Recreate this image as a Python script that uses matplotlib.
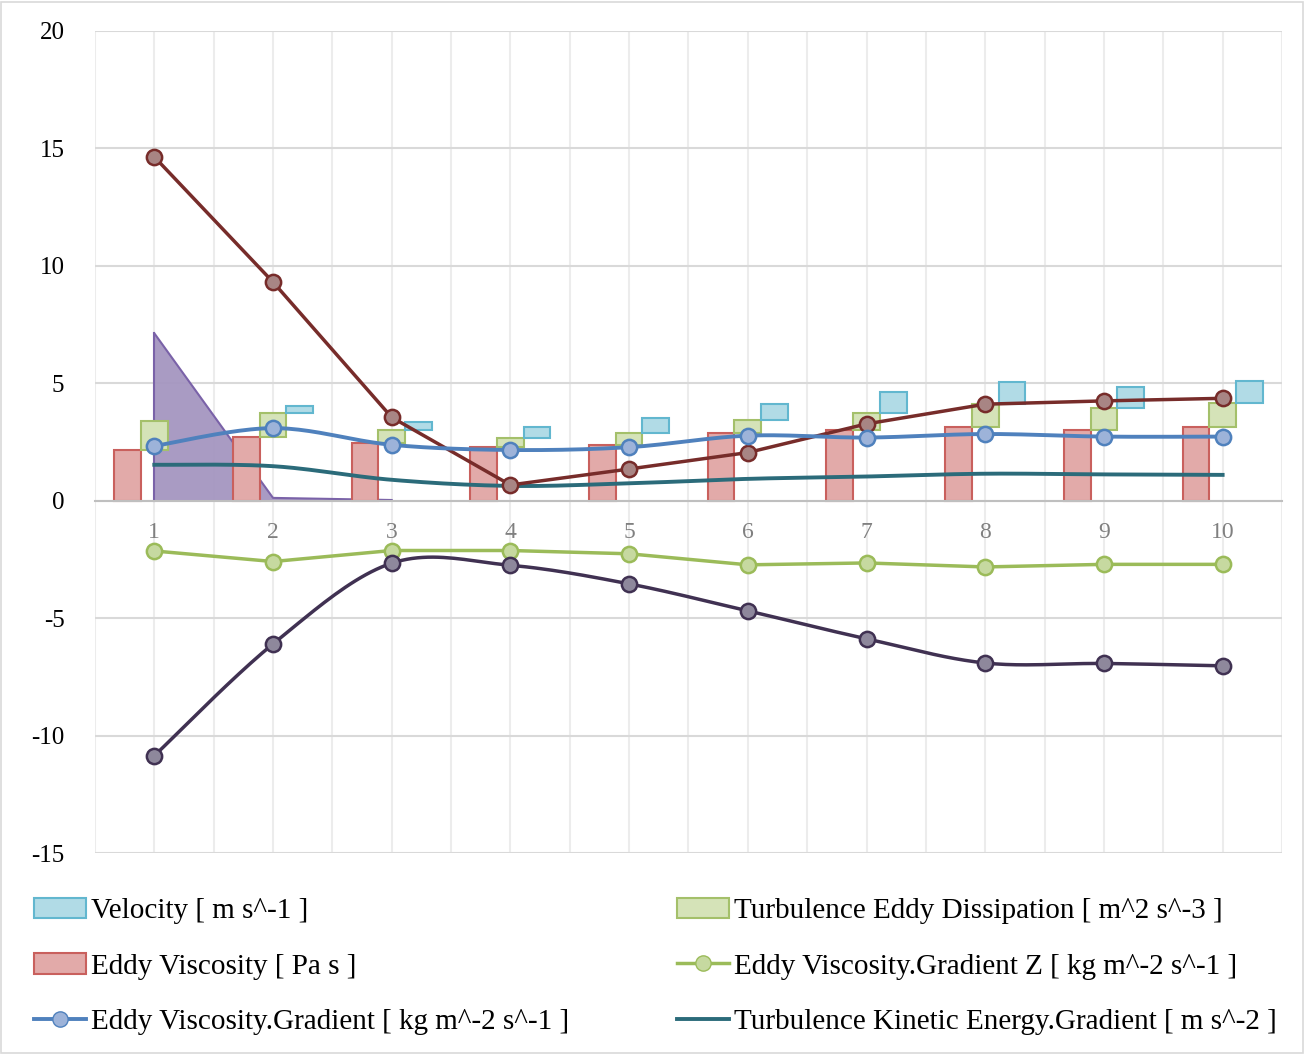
#!/usr/bin/env python3
"""Excel-style combo chart: stacked offset columns, area and lines."""

import matplotlib
matplotlib.use('Agg')
import matplotlib.pyplot as plt
from matplotlib.lines import Line2D
from matplotlib.patches import Patch, Rectangle
import numpy as np

plt.rcParams.update({
    'font.family': ['Liberation Serif', 'DejaVu Serif'],
    'font.size': 18,
    'figure.facecolor': 'white',
})

categories = [1, 2, 3, 4, 5, 6, 7, 8, 9, 10]

eddy_visc = [2.16, 2.73, 2.45, 2.30, 2.37, 2.90, 3.01, 3.13, 3.01, 3.13]
eddy_diss = [1.24, 0.99, 0.56, 0.36, 0.50, 0.54, 0.74, 0.98, 0.93, 1.02]
velocity = [0.0, 0.32, 0.36, 0.49, 0.64, 0.68, 0.89, 0.96, 0.92, 0.95]

area_series = [7.13, 0.12, 0.03, 0.0, 0.0, 0.0, 0.0, 0.0, 0.0, 0.0]
red_line = [14.64, 9.31, 3.55, 0.67, 1.35, 2.05, 3.27, 4.11, 4.25, 4.36]
visc_grad = [2.33, 3.09, 2.38, 2.16, 2.28, 2.77, 2.69, 2.84, 2.73, 2.73]
tke_grad = [1.53, 1.47, 0.89, 0.63, 0.74, 0.93, 1.03, 1.15, 1.12, 1.10]
visc_grad_z = [-2.14, -2.59, -2.12, -2.12, -2.26, -2.73, -2.65, -2.82, -2.71, -2.71]
purple_line = [-10.86, -6.10, -2.66, -2.75, -3.54, -4.69, -5.88, -6.91, -6.93, -7.03]

y_ticks = [-15, -10, -5, 0, 5, 10, 15, 20]


def smooth(x, y, n=24):
    # Excel-like smoothed line: cubic Bezier segments, Catmull-Rom control points
    x = np.asarray(x, float)
    y = np.asarray(y, float)
    px, py = [], []
    for i in range(len(x) - 1):
        i0, i3 = max(i - 1, 0), min(i + 2, len(x) - 1)
        c1x = x[i] + (x[i + 1] - x[i0]) / 6
        c1y = y[i] + (y[i + 1] - y[i0]) / 6
        c2x = x[i + 1] - (x[i3] - x[i]) / 6
        c2y = y[i + 1] - (y[i3] - y[i]) / 6
        t = np.linspace(0, 1, n)
        a, b, c, d = (1 - t) ** 3, 3 * t * (1 - t) ** 2, 3 * t ** 2 * (1 - t), t ** 3
        px.extend(a * x[i] + b * c1x + c * c2x + d * x[i + 1])
        py.extend(a * y[i] + b * c1y + c * c2y + d * y[i + 1])
    return px, py


fig = plt.figure(figsize=(13.06, 10.54), dpi=100)
ax = fig.add_axes([0.0727, 0.1907, 0.9089, 0.7799])

x = np.array(categories, float)
w = 0.225

# area (only the non-zero stretch is visible in the original)
ax.fill_between(x[:3], area_series[:3], 0, color='#a596c0', alpha=0.95, zorder=1, linewidth=0)
ax.plot(x[:3], area_series[:3], color='#7a62a8', linewidth=1.5, zorder=1.2)
ax.plot([1, 1], [0, area_series[0]], color='#7a62a8', linewidth=1.5, zorder=1.2)

# stacked columns, offset like in the original
b1 = np.array(eddy_visc)
b2 = b1 + np.array(eddy_diss)
ax.bar(x - w, eddy_visc, w, color='#e2aaa9', edgecolor='#c9605d', linewidth=1.5, zorder=2)
ax.bar(x, eddy_diss, w, bottom=b1, color='#d5e3b8', edgecolor='#a4c06a', linewidth=1.5, zorder=2)
vel_edges = ['#62b7cf' if v > 0 else 'none' for v in velocity]
ax.bar(x + w, velocity, w, bottom=b2, color='#b1dbe6', edgecolor=vel_edges, linewidth=1.5, zorder=2)

# lines
ax.plot(x, red_line, color='#772c2a', linewidth=2.5, marker='o', markersize=11,
        markerfacecolor='#a88584', markeredgecolor='#772c2a', markeredgewidth=1.8, zorder=4)
sx, sy = smooth(x, visc_grad)
ax.plot(sx, sy, color='#4f81bd', linewidth=2.8, zorder=4)
ax.plot(x, visc_grad, linestyle='none', marker='o', markersize=11,
        markerfacecolor='#9db3d9', markeredgecolor='#4f81bd', markeredgewidth=1.8, zorder=5)
sx, sy = smooth(x, tke_grad)
ax.plot(sx, sy, color='#2b6b7a', linewidth=2.8, zorder=3)
ax.plot(x, visc_grad_z, color='#9bbb59', linewidth=2.5, marker='o', markersize=11,
        markerfacecolor='#c6d9a0', markeredgecolor='#9bbb59', markeredgewidth=1.8, zorder=4)
sx, sy = smooth(x, purple_line)
ax.plot(sx, sy, color='#403152', linewidth=2.5, zorder=4)
ax.plot(x, purple_line, linestyle='none', marker='o', markersize=11,
        markerfacecolor='#8e889c', markeredgecolor='#403152', markeredgewidth=1.8, zorder=5)

# axes styling
ax.set_xlim(0.5, 10.5)
ax.set_ylim(-15, 20)
ax.set_yticks(y_ticks)
ax.set_yticklabels([str(v) for v in y_ticks])
ax.set_xticks(categories)
ax.set_xticks(np.arange(0.5, 10.6, 1.0), minor=True)
ax.tick_params(axis='y', length=0, pad=22, labelsize=18)
ax.tick_params(axis='x', which='both', length=0, pad=15, labelsize=17, labelcolor='#808080')
ax.yaxis.grid(True, color='#d9d9d9', linewidth=1.5, zorder=0)
ax.xaxis.grid(True, which='both', color='#ececec', linewidth=1.5, zorder=0)
ax.set_axisbelow(True)
for s in ['top', 'right', 'left']:
    ax.spines[s].set_visible(False)
ax.spines['bottom'].set_position(('data', 0))
ax.spines['bottom'].set_color('#bfbfbf')
ax.spines['bottom'].set_linewidth(1.5)

# legend
handles = [
    Patch(facecolor='#b1dbe6', edgecolor='#62b7cf', linewidth=1.5),
    Patch(facecolor='#e2aaa9', edgecolor='#c9605d', linewidth=1.5),
    Line2D([], [], color='#4f81bd', linewidth=2.8, marker='o', markersize=11,
           markerfacecolor='#9db3d9', markeredgecolor='#4f81bd'),
    Patch(facecolor='#d5e3b8', edgecolor='#a4c06a', linewidth=1.5),
    Line2D([], [], color='#9bbb59', linewidth=2.5, marker='o', markersize=11,
           markerfacecolor='#c6d9a0', markeredgecolor='#9bbb59'),
    Line2D([], [], color='#2b6b7a', linewidth=2.8),
]
labels = [
    'Velocity [ m s^-1 ]',
    'Eddy Viscosity [ Pa s ]',
    'Eddy Viscosity.Gradient [ kg m^-2 s^-1 ]',
    'Turbulence Eddy Dissipation [ m^2 s^-3 ]',
    'Eddy Viscosity.Gradient Z [ kg m^-2 s^-1 ]',
    'Turbulence Kinetic Energy.Gradient [ m s^-2 ]',
]
fig.legend(handles, labels, ncol=2, loc='upper left', bbox_to_anchor=(0.017, 0.1595),
           frameon=False, fontsize=21, handlelength=1.8, handletextpad=0.15,
           labelspacing=1.0, columnspacing=3.7, borderaxespad=0)

fig.add_artist(Rectangle((0.001, 0.001), 0.997, 0.997, transform=fig.transFigure,
                         fill=False, edgecolor='#d9d9d9', linewidth=1.2))

fig.savefig('out.png', dpi=100)
